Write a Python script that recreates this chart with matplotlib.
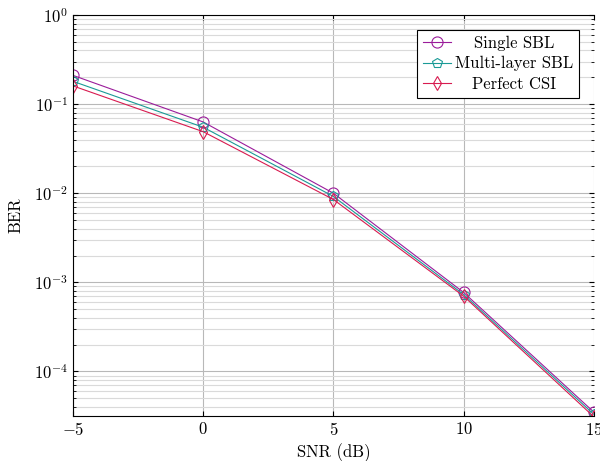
import numpy as np
import matplotlib
matplotlib.use("Agg")
import matplotlib.pyplot as plt

snr = [-5, 0, 5, 10, 15]
ber_single = [0.21, 0.063, 0.0100, 7.7e-4, 3.5e-5]
ber_multi = [0.18, 0.055, 0.0092, 7.3e-4, 3.3e-5]
ber_perfect = [0.16, 0.049, 0.0085, 7.0e-4, 3.1e-5]

plt.rcParams["font.family"] = "serif"
plt.rcParams["font.serif"] = ["cmr10", "DejaVu Serif"]
plt.rcParams["mathtext.fontset"] = "cm"
plt.rcParams["axes.formatter.use_mathtext"] = True

fig = plt.figure(figsize=(6, 4.61), dpi=100)
ax = fig.add_axes([0.1217, 0.0976, 0.868, 0.8699])

ax.semilogy(snr, ber_single, color="#9B1C9B", marker="o", markersize=8,
            markerfacecolor="none", markeredgewidth=0.8, linewidth=0.8,
            label="Single SBL")
ax.semilogy(snr, ber_multi, color="#1A9A96", marker="p", markersize=7.5,
            markerfacecolor="none", markeredgewidth=0.8, linewidth=0.8,
            label="Multi-layer SBL")
ax.semilogy(snr, ber_perfect, color="#D81B50", marker="d", markersize=7.5,
            markerfacecolor="none", markeredgewidth=0.8, linewidth=0.8,
            label="Perfect CSI")

ax.set_xlim(-5, 15)
ax.set_ylim(10**-4.5, 1)
ax.set_xticks(snr)
ax.grid(True, which="major", color="#b8b8b8", linewidth=0.8)
ax.grid(True, which="minor", color="#dadada", linewidth=0.8)
ax.tick_params(which="both", direction="in", top=True, right=True)
ax.tick_params(labelsize=12)
ax.spines["right"].set_visible(False)
ax.set_xlabel("SNR (dB)", fontsize=12)
ax.set_ylabel("BER", fontsize=12, labelpad=8)

leg = ax.legend(loc="upper right", fontsize=12, fancybox=False,
                edgecolor="black", framealpha=1, handlelength=1.7,
                handletextpad=0.2, borderpad=0.35, labelspacing=0.3,
                borderaxespad=0.9)
leg.get_frame().set_linewidth(0.8)

# centre the legend texts like pgfplots does
fig.canvas.draw()
r = fig.canvas.get_renderer()
widths = [t.get_window_extent(r).width for t in leg.get_texts()]
for t, w in zip(leg.get_texts(), widths):
    t.set_x((max(widths) - w) / 2)

fig.savefig("out.png", dpi=100)
